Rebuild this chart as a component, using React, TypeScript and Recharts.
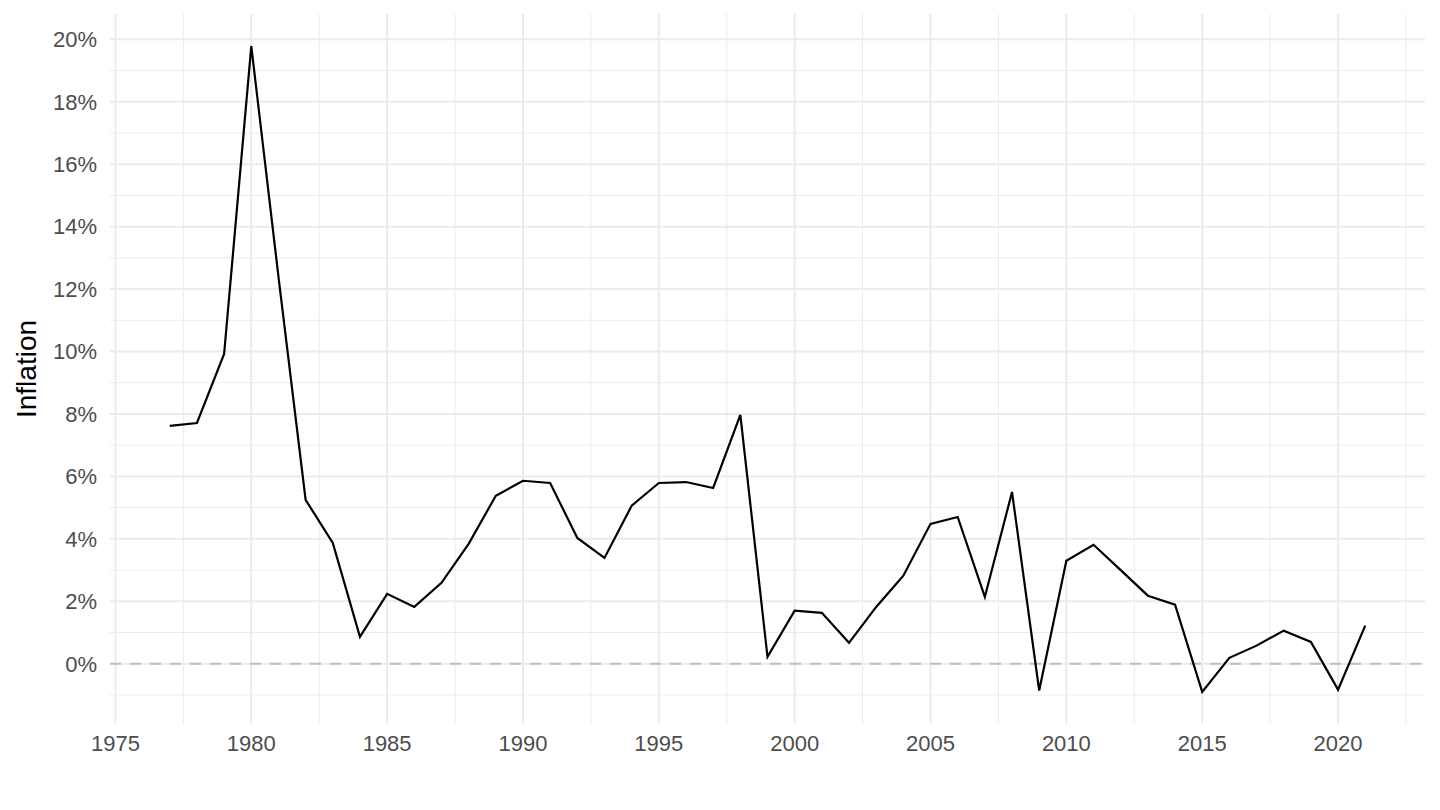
import React from 'react';
import { LineChart, Line, CartesianGrid, XAxis, YAxis, ReferenceLine } from 'recharts';

// yearly inflation, %
const years = [
  1977, 1978, 1979, 1980, 1981, 1982, 1983, 1984, 1985, 1986, 1987, 1988, 1989, 1990, 1991,
  1992, 1993, 1994, 1995, 1996, 1997, 1998, 1999, 2000, 2001, 2002, 2003, 2004, 2005, 2006,
  2007, 2008, 2009, 2010, 2011, 2012, 2013, 2014, 2015, 2016, 2017, 2018, 2019, 2020, 2021,
];
const inflation = [
  7.62, 7.71, 9.92, 19.78, 12.4, 5.25, 3.87, 0.86, 2.24, 1.82, 2.59, 3.84, 5.38, 5.86, 5.79,
  4.03, 3.39, 5.06, 5.79, 5.82, 5.63, 7.97, 0.22, 1.70, 1.63, 0.67, 1.82, 2.82, 4.48, 4.70,
  2.14, 5.50, -0.86, 3.30, 3.81, 3.0, 2.18, 1.89, -0.90, 0.19, 0.58, 1.06, 0.70, -0.83, 1.22,
];

const xTicks = [1975, 1980, 1985, 1990, 1995, 2000, 2005, 2010, 2015, 2020];
const xMinor = [1977.5, 1982.5, 1987.5, 1992.5, 1997.5, 2002.5, 2007.5, 2012.5, 2017.5, 2022.5];
const yTicks = [0, 2, 4, 6, 8, 10, 12, 14, 16, 18, 20];
const yMinor = [-1, 1, 3, 5, 7, 9, 11, 13, 15, 17, 19];

const data = years.map((year, i) => ({ year, value: inflation[i] }));

const tickStyle = { fill: '#4d4d4d', fontSize: 22, fontFamily: '"Liberation Sans", Arial, sans-serif' };

const App: React.FC = () => {
  return (
    <div style={{ position: 'absolute', left: 0, top: 0, background: '#fff' }}>
      <LineChart width={1440} height={810} data={data} margin={{ top: 14, right: 15, left: 0, bottom: 56 }}>
        {/* minor grid */}
        <CartesianGrid
          stroke="#ebebeb"
          strokeWidth={1}
          verticalValues={xMinor}
          horizontalValues={yMinor}
        />
        {/* major grid */}
        <CartesianGrid
          stroke="#ebebeb"
          strokeWidth={2}
          verticalValues={xTicks}
          horizontalValues={yTicks}
        />
        <XAxis
          dataKey="year"
          type="number"
          domain={[1974.8, 2023.2]}
          ticks={xTicks}
          allowDataOverflow
          axisLine={false}
          tickLine={false}
          tickSize={0}
          tickMargin={11}
          height={30}
          tick={tickStyle}
        />
        <YAxis
          type="number"
          domain={[-1.93, 20.81]}
          ticks={yTicks}
          allowDataOverflow
          axisLine={false}
          tickLine={false}
          tickSize={0}
          tickMargin={13}
          width={110}
          tickFormatter={(v: number) => `${v}%`}
          tick={tickStyle}
          label={{
            value: 'Inflation',
            angle: -90,
            position: 'insideLeft',
            offset: 26,
            style: { fill: '#000', fontSize: 28, fontFamily: '"Liberation Sans", Arial, sans-serif', textAnchor: 'middle' },
          }}
        />
        <ReferenceLine y={0} stroke="#bebebe" strokeWidth={2} strokeDasharray="11 9" />
        <Line
          type="linear"
          dataKey="value"
          stroke="#000"
          strokeWidth={2.2}
          dot={false}
          activeDot={false}
          isAnimationActive={false}
        />
      </LineChart>
    </div>
  );
};

export default App;
